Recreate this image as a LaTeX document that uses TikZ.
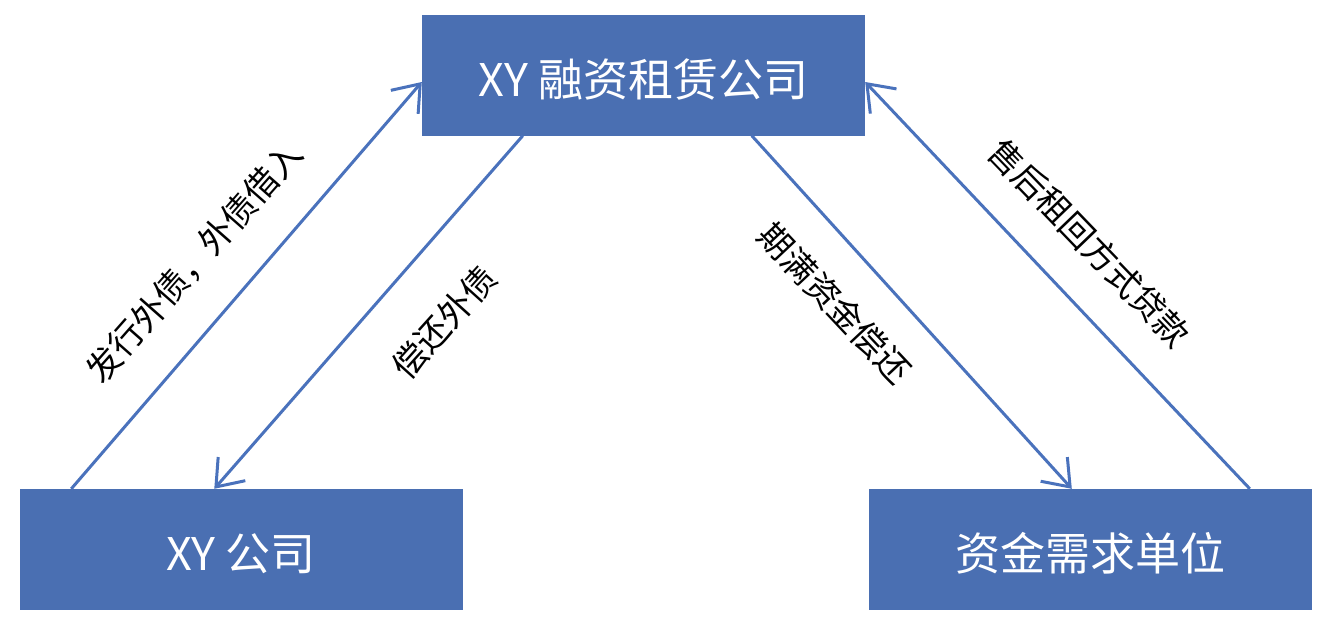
\documentclass[tikz,border=0pt]{standalone}
\usepackage{fontspec}
\newfontfamily\cjk{Noto Sans CJK SC}
\usetikzlibrary{arrows.meta}
\definecolor{boxblue}{HTML}{4A6FB2}
\definecolor{lineblue}{HTML}{4A72BC}
\tikzset{
  entity/.style={draw=none, fill=boxblue, text=white, minimum width=443pt, minimum height=121pt, inner sep=0pt, font=\cjk\fontsize{45}{50}\selectfont},
  flow/.style={draw=lineblue, line width=3pt, -{Straight Barb[length=24pt,width=36pt,line width=3pt]}},
  lbl/.style={inner sep=0pt, text=black, font=\cjk\fontsize{34}{38}\selectfont}
}
\newcommand\boxtext[1]{\raisebox{-21pt}[0pt][0pt]{#1}}
\begin{document}
\begin{tikzpicture}[x=1pt,y=-1pt]
\useasboundingbox (0,0) rectangle (1318,629);
\node[entity] (top) at (643.5,75) {\boxtext{XY 融资租赁公司}};
\node[entity] (xy) at (241,549.5) {\boxtext{XY 公司}};
\node[entity] (dem) at (1090.5,549.5) {\boxtext{资金需求单位}};
\draw[flow] ([xshift=52pt]xy.north west) -- ([yshift=-7pt]top.west);
\draw[flow] ([xshift=101pt]top.south west) -- ([xshift=195pt]xy.north west);
\draw[flow] ([xshift=330pt]top.south west) -- ([xshift=203pt]dem.north west);
\draw[flow] ([xshift=381pt]dem.north west) -- ([yshift=-7pt]top.east);
\node[lbl, rotate=48.6] (l1) at (194,262) {发行外债，外债借入};
\node[lbl, rotate=48] (l2) at (444,322) {偿还外债};
\node[lbl, rotate=-46.8] (l3) at (835,303) {期满资金偿还};
\node[lbl, rotate=-46.1] (l4) at (1089.5,243) {售后租回方式贷款};
\end{tikzpicture}
\end{document}
